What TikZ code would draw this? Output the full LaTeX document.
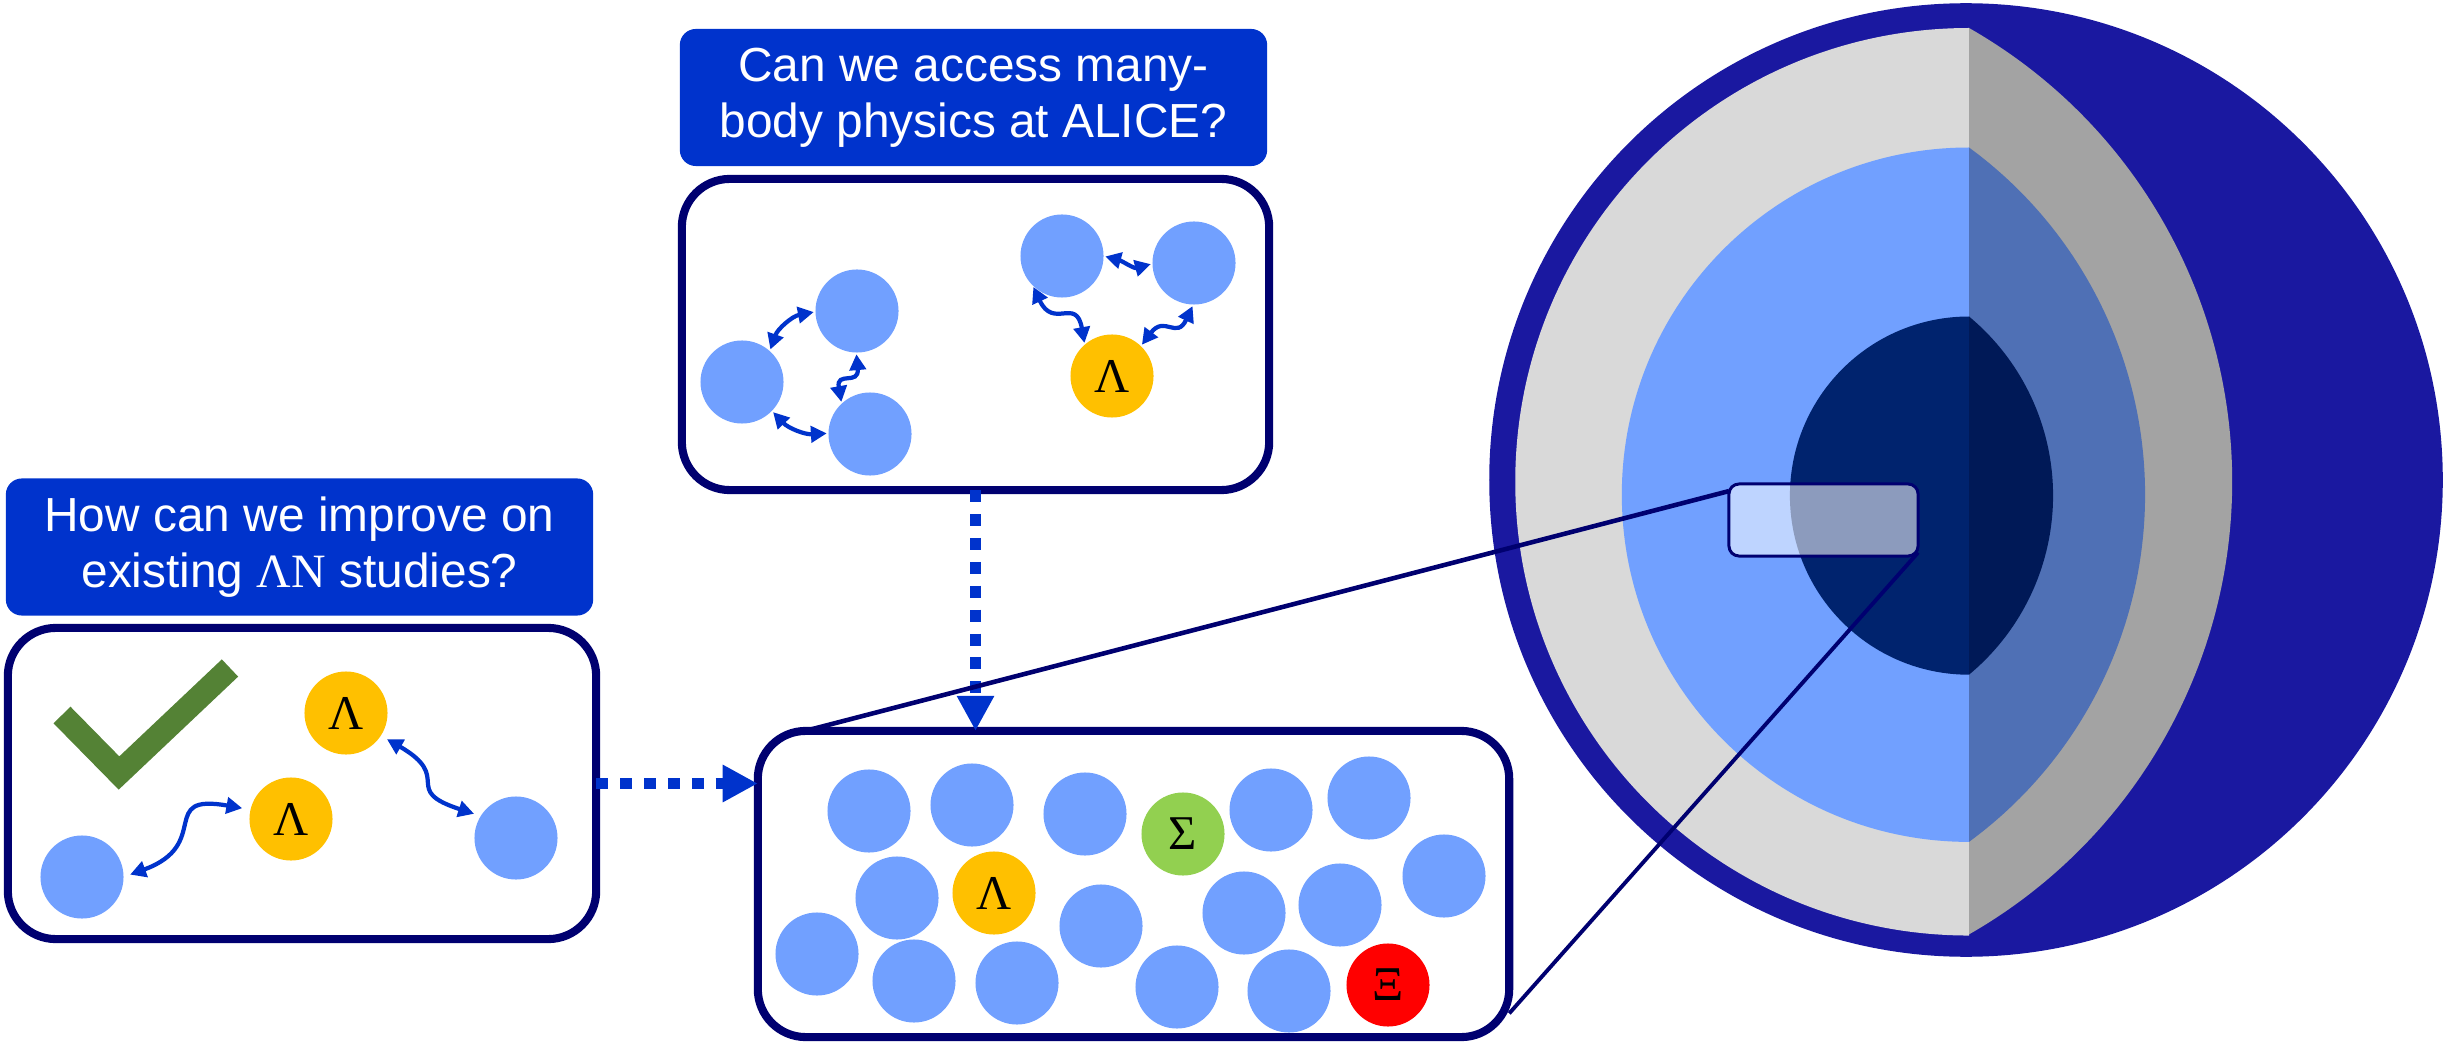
\documentclass[tikz,border=0pt]{standalone}
\usepackage{fontspec}
\setmainfont{Liberation Sans}
\newfontfamily\greekfont{Liberation Serif}
\usetikzlibrary{positioning, calc, arrows.meta}

\definecolor{askblue}{HTML}{0033CC}
\definecolor{framenavy}{HTML}{000070}
\definecolor{nucblue}{HTML}{71A0FF}
\definecolor{lambdagold}{HTML}{FFC000}
\definecolor{sigmagreen}{HTML}{92D050}
\definecolor{xired}{HTML}{FF0000}
\definecolor{tickgreen}{HTML}{548235}
\definecolor{starblue}{HTML}{1A18A0}
\definecolor{crustlight}{HTML}{D9D9D9}
\definecolor{crustdark}{HTML}{A3A3A3}
\definecolor{outerlight}{HTML}{71A0FF}
\definecolor{outerdark}{HTML}{4F70B5}
\definecolor{innerlight}{HTML}{00236E}
\definecolor{innerdark}{HTML}{001957}

\tikzset{every picture/.append style={thick}}

\begin{document}
\begin{tikzpicture}[x=0.01cm, y=-0.01cm,
    question/.style={fill=askblue, rounded corners=0.16cm, text=white, align=center,
        minimum width=5.87cm, minimum height=1.37cm, inner sep=0pt,
        font=\fontsize{13.6}{15.9}\selectfont},
    panel/.style={draw=framenavy, line width=2.3pt, fill=white, rounded corners=0.48cm,
        inner sep=0pt, outer sep=0pt},
    nucleon/.style={circle, fill=nucblue, minimum size=0.83cm, inner sep=0pt, outer sep=0pt,
        font=\greekfont\fontsize{13.8}{14}\selectfont},
    hyperon/.style={nucleon, fill=lambdagold},
    pairlink/.style={draw=askblue, line width=1.2pt,
        {Triangle[length=4.5pt,width=4.6pt]}-{Triangle[length=4.5pt,width=4.6pt]},
        shorten <=0.5pt, shorten >=0.5pt},
    flowarrow/.style={draw=askblue, line width=3.4pt, dash pattern=on 3.4pt off 3.4pt,
        -{Triangle[length=10pt,width=10pt]}},
    zoomline/.style={draw=framenavy, line width=1.1pt},
]
    \useasboundingbox (0,0) rectangle (2443,1043);

    % Questions
    \node[question] (asktop) at (973.5,97.5) {Can we access many-\\body physics at ALICE?};
    \node[question] (askleft) at (299.5,547) {How can we improve on\\existing {\greekfont ΛN} studies?};

    % Panels
    \node[panel, minimum width=5.87cm, minimum height=3.11cm] (boxtop) at (975.5,334.5) {};
    \node[panel, minimum width=5.88cm, minimum height=3.11cm] (boxleft) at (302,783.5) {};
    \node[panel, minimum width=7.51cm, minimum height=3.06cm] (boxcore) at (1133.5,884) {};

    % Three-body panel
    \node[nucleon] (tA) at (742,382) {};
    \node[nucleon] (tB) at (857,311) {};
    \node[nucleon] (tC) at (870,434) {};
    \node[nucleon] (tN1) at (1062,256) {};
    \node[nucleon] (tN2) at (1194,263) {};
    \node[hyperon] (tL) at (1112,376) {Λ};
    \draw[pairlink] (tA.48) to[bend left=30] (tB.181);
    \draw[pairlink] (tB.-91) to[out=-85, in=100, looseness=1.6] (tC.133);
    \draw[pairlink] (tA.-44) to[bend right=25] (tC.179);
    \draw[pairlink] (tN1.0) to[out=-15, in=195] (tN2.181);
    \draw[pairlink] (tN1.-135) to[out=-65, in=100, looseness=1.6] (tL.131);
    \draw[pairlink] (tN2.-91) to[out=-115, in=53, looseness=1.5] (tL.46);

    % Two-body panel
    \draw[tickgreen, line width=6.75pt] (62,715) -- (119,773) -- (230,668);
    \node[nucleon] (lN1) at (82,877) {};
    \node[hyperon] (lL1) at (291,819) {Λ};
    \node[hyperon] (lL2) at (346,713) {Λ};
    \node[nucleon] (lN2) at (516,838) {};
    \draw[pairlink, shorten <=2pt, shorten >=2.4pt] (lN1.0) to[out=20, in=170, looseness=1.7] (lL1.167);
    \draw[pairlink, shorten <=2pt, shorten >=2pt] (lL2.-33) to[out=-30, in=162, looseness=1.7] (lN2.148);

    % Dense matter panel
    \foreach \x/\y [count=\i] in {869/811, 972/805, 1085/814, 1271/810, 1369/798, 1444/876,
        897/898, 1101/926, 1244/913, 1340/905, 817/954, 914/981, 1017/983, 1177/987, 1289/991}
        \node[nucleon] (c\i) at (\x,\y) {};
    \node[hyperon] (cL) at (994,893) {Λ};
    \node[nucleon, fill=sigmagreen] (cS) at (1183,834) {Σ};
    \node[nucleon, fill=xired] (cX) at (1388,985) {Ξ};

    % Dotted arrows
    \draw[flowarrow] (boxleft.east) -- (boxleft.east -| boxcore.west);
    \draw[flowarrow] (boxtop.south) -- (boxtop.south |- boxcore.north);

    % Star cut-away
    \fill[starblue] (1966,480) circle[radius=4.765cm];
    \fill[crustlight] (1969,28) arc[start angle=90, end angle=270, radius=4.535cm] -- cycle;
    \fill[crustdark] (1969,28) arc[start angle=60.27, end angle=-60.27, radius=5.216cm] -- cycle;
    \fill[outerlight] (1969,147.5) arc[start angle=90, end angle=270, radius=3.47cm] -- cycle;
    \fill[outerdark] (1969,147.5) arc[start angle=53.78, end angle=-53.78, radius=4.301cm] -- cycle;
    \fill[innerlight] (1969,316.5) arc[start angle=90, end angle=270, radius=1.79cm] -- cycle;
    \fill[innerdark] (1969,316.5) arc[start angle=50.28, end angle=-50.28, radius=2.327cm] -- cycle;

    % Zoom window
    \coordinate (zc) at (1823.5,520);
    \node[draw=framenavy, line width=0.85pt, fill=white, fill opacity=0.55, rounded corners=0.1cm,
        minimum width=1.89cm, minimum height=0.72cm, inner sep=0pt, outer sep=0pt] (zoomwin) at (zc) {};
    \draw[zoomline, line width=1.3pt] (zoomwin.163.5) -- (boxcore.155.4);
    \draw[zoomline] (zoomwin.-19) -- (boxcore.-19);
\end{tikzpicture}
\end{document}
